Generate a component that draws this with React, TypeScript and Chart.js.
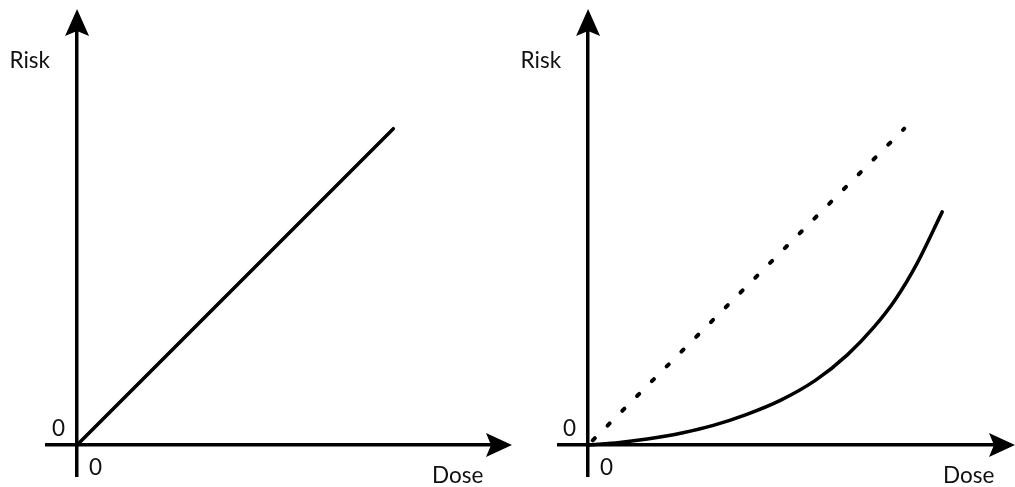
import React, { useEffect, useRef } from "react";
import { Chart, registerables } from "chart.js";

Chart.register(...registerables);

// ---- texts ----
const Y_TITLE = "Risk";
const X_TITLE = "Dose";
const ORIGIN_TICK = "0";

// ---- left panel: linear dose-response ----
const linearDose = [0, 10];
const linearRisk = [0, 10];

// ---- right panel: linear reference (dotted) ----
const refDose = [0, 10];
const refRisk = [0, 10];

// ---- right panel: curved (supra-linear) response ----
const curveDose = [0, 1.0, 1.87, 3.0, 3.96, 5.0, 6.08, 7.2, 8.2, 9.02, 9.72, 10.41, 11.2];
const curveRisk = [0, 0.08, 0.19, 0.39, 0.62, 0.96, 1.41, 2.05, 2.85, 3.7, 4.6, 5.75, 7.37];

// ---- axis ranges ----
const leftXRange = [-0.95, 13.5];
const rightXRange = [-0.92, 13.25];
const yRange = [-0.98, 13.53];

const FONT = "22.5px Lato, 'Open Sans', sans-serif";

function toPoints(xs: number[], ys: number[]) {
  return xs.map((x, i) => ({ x, y: ys[i] }));
}

function drawArrowUp(ctx: CanvasRenderingContext2D, x: number, tip: number) {
  ctx.beginPath();
  ctx.moveTo(x, tip);
  ctx.lineTo(x + 12, tip + 27);
  ctx.lineTo(x, tip + 22);
  ctx.lineTo(x - 12, tip + 27);
  ctx.closePath();
  ctx.fill();
}

function drawArrowRight(ctx: CanvasRenderingContext2D, tip: number, y: number) {
  ctx.beginPath();
  ctx.moveTo(tip, y);
  ctx.lineTo(tip - 26, y - 12);
  ctx.lineTo(tip - 21, y);
  ctx.lineTo(tip - 26, y + 12);
  ctx.closePath();
  ctx.fill();
}

const overlayPlugin = {
  id: "axisOverlay",
  afterDraw(chart: any) {
    const { ctx, chartArea, scales } = chart;
    const xs = scales.x;
    const ys = scales.y;
    const ox = xs.getPixelForValue(0);
    const oy = ys.getPixelForValue(0);
    const tipY = chartArea.top - 8;
    const tipX = chartArea.right + 8;
    ctx.save();
    ctx.fillStyle = "#000";
    drawArrowUp(ctx, ox, tipY);
    drawArrowRight(ctx, tipX, oy);
    ctx.fillStyle = "#111";
    ctx.font = FONT;
    ctx.textBaseline = "alphabetic";
    ctx.textAlign = "right";
    ctx.fillText(Y_TITLE, ox - 27, tipY + 59);
    ctx.fillText(ORIGIN_TICK, ox - 12, oy - 9);
    ctx.textAlign = "left";
    ctx.fillText(ORIGIN_TICK, ox + 12, oy + 30);
    ctx.fillText(X_TITLE, ox + 355, oy + 38);
    ctx.restore();
  },
};

function makeScales(xRange: number[]) {
  const common = {
    type: "linear" as const,
    grid: { display: false },
    ticks: { display: false },
    border: { display: true, color: "#000", width: 3.5 },
  };
  return {
    x: { ...common, min: xRange[0], max: xRange[1], position: { y: 0 } },
    y: { ...common, min: yRange[0], max: yRange[1], position: { x: 0 } },
  };
}

function Panel({ width, left, padLeft, padRight, datasets, xRange }: any) {
  const ref = useRef<HTMLCanvasElement | null>(null);
  useEffect(() => {
    if (!ref.current) return;
    const chart = new Chart(ref.current, {
      type: "scatter",
      data: { datasets },
      options: {
        responsive: false,
        animation: false,
        devicePixelRatio: 1,
        layout: { padding: { left: padLeft, right: padRight, top: 17, bottom: 11 } },
        plugins: { legend: { display: false }, tooltip: { enabled: false } },
        scales: makeScales(xRange) as any,
        events: [],
      },
      plugins: [overlayPlugin],
    });
    return () => chart.destroy();
  }, []);
  return (
    <canvas
      ref={ref}
      width={width}
      height={487}
      style={{ position: "absolute", left, top: 0, width, height: 487 }}
    />
  );
}

export default function App() {
  const leftSets = [
    {
      data: toPoints(linearDose, linearRisk),
      showLine: true,
      borderColor: "#000",
      borderWidth: 3.5,
      borderCapStyle: "round",
      pointRadius: 0,
    },
  ];
  const rightSets = [
    {
      data: toPoints(refDose, refRisk),
      showLine: true,
      borderColor: "#000",
      borderWidth: 4,
      borderDash: [3, 17.9],
      borderDashOffset: 14.3,
      borderCapStyle: "round",
      pointRadius: 0,
    },
    {
      data: toPoints(curveDose, curveRisk),
      showLine: true,
      borderColor: "#000",
      borderWidth: 3.5,
      borderCapStyle: "round",
      cubicInterpolationMode: "monotone",
      pointRadius: 0,
    },
  ];
  return (
    <div style={{ position: "fixed", left: 0, top: 0, width: 1015, height: 487, background: "#fff" }}>
      <Panel width={520} left={0} padLeft={47} padRight={16} datasets={leftSets} xRange={leftXRange} />
      <Panel width={495} left={520} padLeft={39} padRight={8} datasets={rightSets} xRange={rightXRange} />
    </div>
  );
}
